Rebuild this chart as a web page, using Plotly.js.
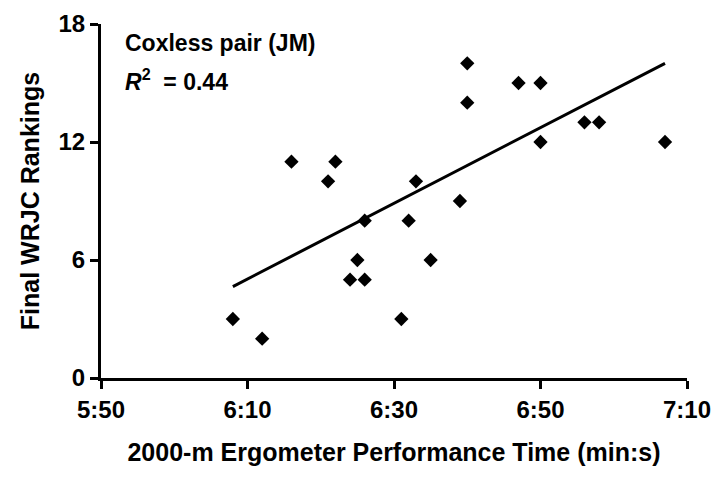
<!DOCTYPE html>
<html>
<head>
<meta charset="utf-8">
<script src="https://cdn.plot.ly/plotly-3.0.1.min.js"></script>
<style>html,body{margin:0;padding:0;background:#fff;}#chart{width:715px;height:480px;}</style>
</head>
<body>
<div id="chart"></div>
<script>
// 2000-m ergometer time in seconds
const ergoTime = [368, 372, 376, 381, 382, 384, 385, 386, 386, 391, 392, 393, 395, 399, 400, 400, 407, 410, 410, 416, 418, 427];
// Final WRJC rankings
const ranking  = [3, 2, 11, 10, 11, 5, 6, 5, 8, 3, 8, 10, 6, 9, 16, 14, 15, 15, 12, 13, 13, 12];
// Linear trend line endpoints
const trendTime = [368, 427];
const trendRank = [4.65, 16.0];
// Axis ticks
const xTickVals = [350, 370, 390, 410, 430];
const xTickText = ['5:50', '6:10', '6:30', '6:50', '7:10'];
const yTickVals = [0, 6, 12, 18];
const labelTitle = 'Coxless pair (JM)';
const labelR2 = '<i>R</i><sup>2</sup>&nbsp; = 0.44';

const FONT = 'Liberation Sans, Arial, sans-serif';

const traces = [
  {
    x: trendTime, y: trendRank, type: 'scatter', mode: 'lines',
    line: {color: '#000', width: 3}, hoverinfo: 'skip', showlegend: false
  },
  {
    x: ergoTime, y: ranking, type: 'scatter', mode: 'markers',
    marker: {symbol: 'diamond', size: 11, color: '#000', line: {width: 0}},
    showlegend: false, cliponaxis: false
  }
];

const axisCommon = {
  showgrid: false, zeroline: false, showline: true, linecolor: '#000', linewidth: 3,
  ticks: 'outside', ticklen: 8, tickwidth: 3, tickcolor: '#000',
  tickfont: {family: FONT, size: 24, color: '#000', weight: 'bold'}
};

const layout = {
  width: 715, height: 480,
  margin: {l: 101, r: 28, t: 24, b: 102},
  paper_bgcolor: '#fff', plot_bgcolor: '#fff',
  font: {family: FONT, color: '#000'},
  xaxis: Object.assign({}, axisCommon, {
    range: [350, 430], tickvals: xTickVals, ticktext: xTickText,
    title: {text: '<b>2000-m Ergometer Performance Time (min:s)</b>', font: {family: FONT, size: 25, color: '#000'}, standoff: 22}
  }),
  yaxis: Object.assign({}, axisCommon, {
    range: [0, 18], tickvals: yTickVals,
    title: {text: '<b>Final WRJC Rankings</b>', font: {family: FONT, size: 25, color: '#000'}, standoff: 12}
  }),
  annotations: [
    {xref: 'paper', yref: 'paper', x: 0.037, y: 0.947, xanchor: 'left', yanchor: 'middle',
     text: '<b>' + labelTitle + '</b>', showarrow: false, font: {family: FONT, size: 23, color: '#000'}},
    {xref: 'paper', yref: 'paper', x: 0.037, y: 0.843, xanchor: 'left', yanchor: 'middle',
     text: '<b>' + labelR2 + '</b>', showarrow: false, font: {family: FONT, size: 23, color: '#000'}}
  ]
};

Plotly.newPlot('chart', traces, layout, {displayModeBar: false, staticPlot: true});
</script>
</body>
</html>
